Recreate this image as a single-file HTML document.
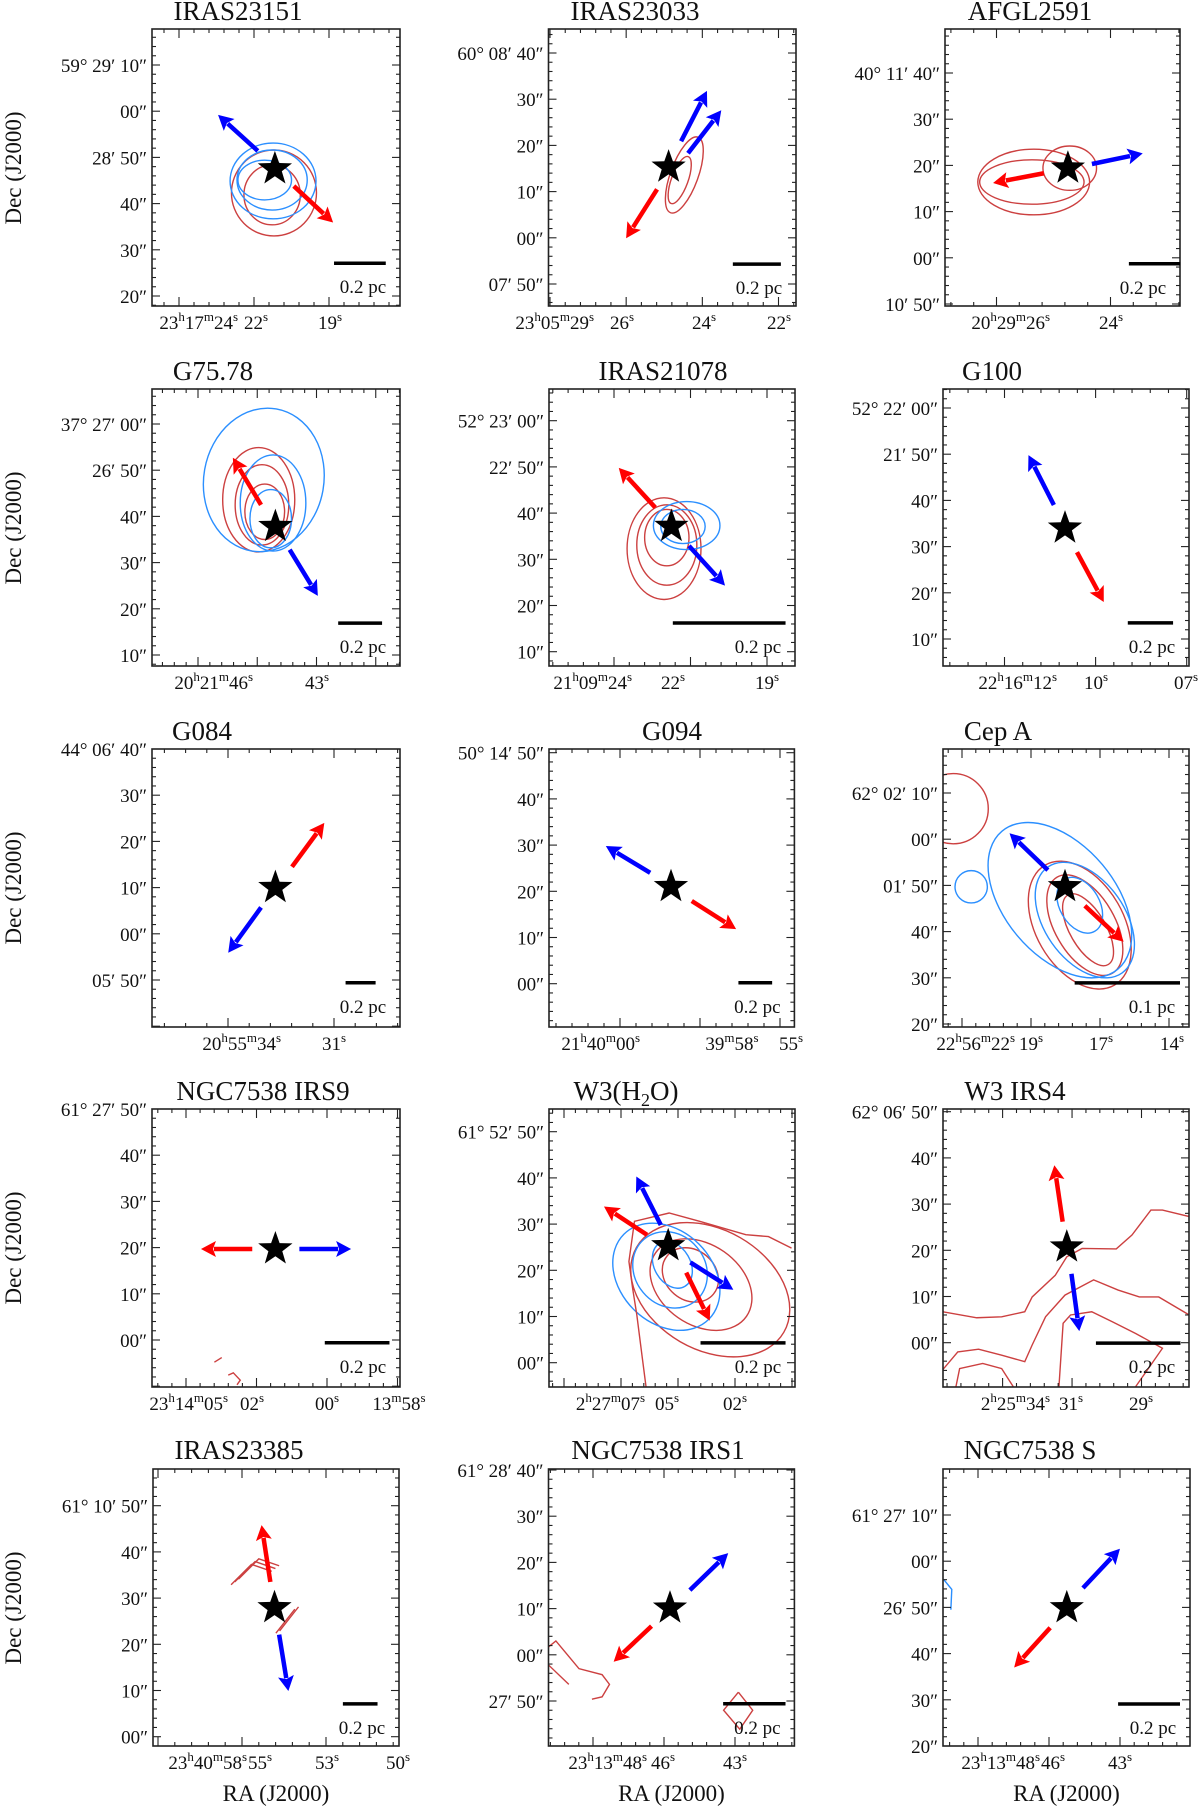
<!DOCTYPE html>
<html><head><meta charset="utf-8"><style>
html,body{margin:0;padding:0;background:#fff;}
svg{display:block;font-family:"Liberation Serif",serif;}
</style></head><body>
<svg id="fig" xmlns="http://www.w3.org/2000/svg" width="1200" height="1809" viewBox="0 0 1200 1809"></svg>
<script>
// ---------- data ----------
const titles=["IRAS23151","IRAS23033","AFGL2591","G75.78","IRAS21078","G100","G084","G094","Cep A","NGC7538 IRS9","W3(H2O)","W3 IRS4","IRAS23385","NGC7538 IRS1","NGC7538 S"];
const yTickLabels=[
["59° 29′ 10″","00″","28′ 50″","40″","30″","20″"],
["60° 08′ 40″","30″","20″","10″","00″","07′ 50″"],
["40° 11′ 40″","30″","20″","10″","00″","10′ 50″"],
["37° 27′ 00″","26′ 50″","40″","30″","20″","10″"],
["52° 23′ 00″","22′ 50″","40″","30″","20″","10″"],
["52° 22′ 00″","21′ 50″","40″","30″","20″","10″"],
["44° 06′ 40″","30″","20″","10″","00″","05′ 50″"],
["50° 14′ 50″","40″","30″","20″","10″","00″"],
["62° 02′ 10″","00″","01′ 50″","40″","30″","20″"],
["61° 27′ 50″","40″","30″","20″","10″","00″"],
["61° 52′ 50″","40″","30″","20″","10″","00″"],
["62° 06′ 50″","40″","30″","20″","10″","00″"],
["61° 10′ 50″","40″","30″","20″","10″","00″"],
["61° 28′ 40″","30″","20″","10″","00″","27′ 50″"],
["61° 27′ 10″","00″","26′ 50″","40″","30″","20″"]];
const xTickLabels=[
["23h17m24s","22s","19s"],["23h05m29s","26s","24s","22s"],["20h29m26s","24s"],
["20h21m46s","43s"],["21h09m24s","22s","19s"],["22h16m12s","10s","07s"],
["20h55m34s","31s"],["21h40m00s","39m58s","55s"],["22h56m22s","19s","17s","14s"],
["23h14m05s","02s","00s","13m58s"],["2h27m07s","05s","02s"],["2h25m34s","31s","29s"],
["23h40m58s","55s","53s","50s"],["23h13m48s","46s","43s"],["23h13m48s","46s","43s"]];
const starPos=[[26.6,-22.5],[26.0,-24.7],[26.6,-20.6],[26.7,-22.2],[26.5,-22.9],[26.4,-26.0],[26.7,-30.0],[26.4,-29.0],[26.4,-20.3],[26.7,-30.3],[25.8,-24.7],[26.8,-29.3],[26.3,-22.1],[26.3,-29.9],[26.8,-20.1]];
const redArrows=[[[4.1,-3.7,12.6,-11.6]],[[-2.5,-4.8,-9.2,-15.4]],[[-5.2,-1.1,-16.2,-3.2]],[[-3.1,4.7,-9.2,14.9]],[[-3.5,4.1,-11.4,12.7]],[[2.6,-5.2,8.4,-16.0]],[[3.6,4.5,10.6,14.0]],[[4.5,-3.1,14.1,-9.2]],[[4.3,-4.1,12.7,-11.9]],[[-5.0,0,-16.1,0]],[[-4.6,2.4,-13.9,8.5],[3.9,-5.8,9.0,-16.2]],[[-0.9,5.5,-2.7,17.7]],[[-0.9,5.6,-2.8,17.9]],[[-4.0,-3.9,-12.2,-11.6]],[[-3.6,-4.3,-11.4,-12.9]]];
const blueArrows=[[[-3.7,3.9,-12.3,11.7]],[[2.7,5.6,8.3,16.5],[4.2,3.0,11.4,12.3]],[[5.2,0.9,16.2,3.2]],[[3.1,-5.0,9.2,-15.0]],[[3.8,-4.2,11.6,-12.8]],[[-2.4,5.0,-7.9,15.8]],[[-3.1,-4.3,-10.2,-14.1]],[[-4.5,3.0,-14.1,8.8]],[[-3.7,3.6,-12.0,11.6]],[[5.2,0,16.4,0]],[[-1.6,4.5,-6.9,15.0],[4.8,-3.6,14.1,-9.5]],[[1.0,-5.8,2.7,-18.2]],[[1.0,-5.8,3.0,-18.0]],[[4.3,3.9,12.6,11.9]],[[3.5,4.3,11.5,12.8]]];
const scaleBars=[[39.4,50.6,-42.9,"0.2 pc"],[39.9,50.3,-45.7,"0.2 pc"],[39.8,50.9,-41.3,"0.2 pc"],[40.3,49.8,-43.1,"0.2 pc"],[26.8,51.2,-43.8,"0.2 pc"],[40.0,49.8,-46.5,"0.2 pc"],[41.9,48.4,-50.6,"0.2 pc"],[41.0,48.3,-49.8,"0.2 pc"],[28.5,51.3,-41.1,"0.1 pc"],[37.4,51.4,-50.6,"0.2 pc"],[32.8,51.2,-45.7,"0.2 pc"],[33.1,51.4,-50.1,"0.2 pc"],[41.1,48.6,-42.9,"0.2 pc"],[37.8,51.3,-50.6,"0.2 pc"],[37.9,51.3,-40.9,"0.2 pc"]];
const blueContours=[
[[-0.4,-2.6,9.3,8.2,0],[-0.6,-2.4,7.6,6.5,0],[-2.2,-2.4,5.8,4.3,0]],[],[],
[[-2.5,10.1,13,15.6,10],[-0.5,5.1,7.1,10.4,0],[-1,1.7,4.5,6.3,0]],
[[3.3,0.2,7.2,5.2,0],[2.5,0,4.8,3.7,0]],[],[],[],
[[-1.1,-2.9,12,19.5,-40],[4.3,-7.2,8.7,14,-35],[3.2,-4,4.3,6.5,-30],[-20.3,0,3.5,3.5,45]],
[],[[-0.4,-6.7,10,13,-45],[0.4,-5.2,7.6,8.7,-40],[0.9,-4.1,3.9,5.4,-30]],[],[],[],[]];
const redContours=[
[[-0.2,-5.2,9.2,9.3,0],[-0.6,-5.6,6.1,6.5,0]],
[[3.4,-1.7,3,8.7,20],[2.4,-2.8,1.8,5.4,20]],
[[-7.4,-3.0,12.1,7.1,0],[-7.8,-3.0,11.3,4.8,0],[0.4,0,5.8,4.8,0]],
[[-3.6,5.8,7.8,11.3,0],[-2.9,4.7,5.8,8.7,0],[-2.3,3.2,4.3,6,0]],
[[-1.6,-4.8,8,11,0],[-1,-4,6.5,8.7,0],[-1,-2.4,4.8,6.1,0]],[],[],[],
[[3.2,-8.3,9.5,15,-30],[4.3,-8.3,6.5,12,-30],[5,-9.3,3.9,8.7,-30],[-24.2,16.9,7.6,7.6,0]],
[],[[9.1,-9.5,18.4,13,30],[7.1,-8.4,12,8.7,35],[4.8,-6.3,6.5,5.4,40]],[],[],[],[]];
const redLines=[[],[],[],[],[],[],[],[],[],
[[[-13.2,-24.5],[-11.6,-23.5]],[[-10.2,-27.3],[-9.1,-26.8],[-7.6,-28.4],[-8.3,-29.4]]],
[[[26.7,-0.5],[21.7,2.0],[16.8,2.4],[6.8,5.3],[0.2,7.1],[-7.3,5.3],[-8.5,-3.4],[-7.7,-9.2],[-6.8,-14.9],[-5.6,-24.3],[-4.8,-30.5]]],
[[[-26.9,-14.0],[-19.5,-15.3],[-14.1,-15.1],[-9.1,-14.0],[-7.5,-10.8],[-2.5,-6.1],[0,-2.1],[3.3,-0.3],[10.7,-0.4],[14.1,2.6],[18.2,8.0],[20.7,8.0],[26.5,6.6]],
 [[-26.9,-26.6],[-23.6,-22.7],[-19.1,-22.1],[-14.1,-23.4],[-9.1,-24.8],[-7.5,-21.2],[-4.6,-15.1],[-0.4,-10.4],[5.8,-7.1],[11.1,-9.3],[15.7,-10.8],[19.9,-10.8],[26.5,-14.7]],
 [[-1.7,-30.2],[-0.8,-16.5],[0.8,-14.7],[5.4,-14.0],[9.9,-16.2],[14.9,-18.7],[20.7,-21.9],[18.2,-25.5],[14.9,-30.2]],
 [[-24.0,-30.2],[-23.2,-26.3],[-18.2,-25.2],[-14.1,-26.3],[-11.6,-30.2]]],
[[[-8.6,5.6],[-4.2,10.0],[0.2,8.5]],[[-9.4,5.0],[-5.0,9.4],[-0.6,7.9]],[[-7.8,6.2],[-3.4,10.6],[1.0,9.1]],[[1.1,-5.0],[5.2,0.2]],[[0.3,-5.5],[4.4,-0.3]]],
[[[-26.3,-8.4],[-24.7,-7.1],[-19.7,-13.1],[-14.7,-14.4],[-13.1,-16.5],[-14.7,-19.2],[-16.9,-19.7]],[[-26.3,-12.3],[-21.9,-16.5]],[[14.8,-18.2],[17.9,-22.1],[15.1,-26.2],[11.6,-22.1],[14.8,-18.2]]],
[]];
const blueLines=[[],[],[],[],[],[],[],[],[],[],[],[],[],[],[[[-26.7,6.2],[-24.9,4.0],[-25.1,-0.4]]]];

// ---------- layout ----------
const S=4.62;
const boxes=[[152,29,400,306],[548.5,29,796,306],[945,29,1180,306],
[152,389,400,666],[549,389,795,666],[943,389,1189,666],
[152,749,400,1027],[549,749,794.4,1027],[943,749,1189,1027],
[152,1109,400,1387],[549,1109,795,1387],[943,1109,1189,1387],
[153,1469,399,1746],[548.5,1469,794.4,1746],[943,1469,1190,1746]];
const yRef=[65,53,73,424,420.7,408,749,752.7,793,1109,1131.7,1111.7,1505.7,1470,1515];
const xMajorPx=[[179,255,329],[550,626.5,702.5,778.5],[996.5,1110.5],[198,241,316.5],[614,675,767],[1004.5,1095.6],[228,334],[620,700],[1031,1101,1169],[186,256,327],[621,667,735],[1002.6,1072.6,1141.5],[158,259,326],[593,664,735],[978,1049,1120]];
const xLabelPx=[[238,256,330],[594,622,704,779],[1050,1111],[253,317],[632,673,767],[1057,1096,1186],[281,334],[640,732,791],[1015,1031,1101,1172],[228,252,327,399],[645,667,735],[1050,1071,1141],[247,260,327,398],[647,663,735],[1040,1053,1120]];
const titleX=[238,635,1030,213,663,992,202,672,998,263,626,1015,239,658,1030];
const rowBase=[20,380,740,1100,1459];
const decY=[168,528,888,1248,1608];

const NS="http://www.w3.org/2000/svg";
const svg=document.getElementById('fig');
function mk(tag,attrs,parent){const e=document.createElementNS(NS,tag);for(const k in attrs)e.setAttribute(k,attrs[k]);(parent||svg).appendChild(e);return e;}
function px(p,x){return boxes[p][0]+x*S;}
function py(p,d){return yRef[p]-d*S;}
function sx(p,dx){return px(p,starPos[p][0]+dx);}
function sy(p,dy){return py(p,starPos[p][1]+dy);}

const defs=mk('defs',{});
function addRaLabel(g,txt,x,y,anchor){
  const t=mk('text',{x:x,y:y,'text-anchor':anchor,'font-size':19,fill:'#111'},g);
  const re=/(\d+)([hms])/g;let m;let up=false;
  while((m=re.exec(txt))){
    const a=document.createElementNS(NS,'tspan');a.textContent=m[1];if(up)a.setAttribute('dy','8');t.appendChild(a);
    const b=document.createElementNS(NS,'tspan');b.textContent=m[2];b.setAttribute('font-size','13');b.setAttribute('dy','-8');t.appendChild(b);
    up=true;
  }
  return t;
}
function starPath(cx,cy,R,r){let d='';for(let i=0;i<10;i++){const a=-Math.PI/2+i*Math.PI/5;const rr=i%2?r:R;d+=(i?'L':'M')+(cx+rr*Math.cos(a)).toFixed(1)+','+(cy+rr*Math.sin(a)).toFixed(1);}return d+'Z';}
function drawArrow(g,p,a,color,name){
  const x1=sx(p,a[0]),y1=sy(p,a[1]),x2=sx(p,a[2]),y2=sy(p,a[3]);
  const dx=x2-x1,dy=y2-y1,L=Math.hypot(dx,dy),ux=dx/L,uy=dy/L,H=15,W=8;
  const bx=x2-ux*H,by=y2-uy*H;
  const ag=mk('g',{},g);
  
  
  mk('line',{x1:x1,y1:y1,x2:bx+ux*2,y2:by+uy*2,stroke:color,'stroke-width':4.5},ag);
  mk('polygon',{points:`${x2},${y2} ${bx-uy*W},${by+ux*W} ${bx+ux*3},${by+uy*3} ${bx+uy*W},${by-ux*W}`,fill:color},ag);
}

for(let p=0;p<15;p++){
  const [L,T,R,B]=boxes[p];
  const g=mk('g',{});
  
  
  const row=Math.floor(p/3),col=p%3;
  const tt=mk('text',{x:titleX[p],y:rowBase[row],'text-anchor':'middle','font-size':27,fill:'#111'},g);
  
  
  if(titles[p]==='W3(H2O)'){tt.innerHTML='W3(H<tspan font-size="18" dy="6">2</tspan><tspan dy="-6">O)</tspan>';}
  else tt.textContent=titles[p];
  const cp=mk('clipPath',{id:'c'+p},defs);mk('rect',{x:L,y:T,width:R-L,height:B-T},cp);
  const cg=mk('g',{'clip-path':`url(#c${p})`},g);
  
  
  const drawEll=(arr,color,nm)=>arr.forEach(c=>{const cx=sx(p,c[0]),cy=sy(p,c[1]);const e=mk('ellipse',{cx:cx,cy:cy,rx:c[2]*S,ry:c[3]*S,transform:`rotate(${c[4]} ${cx} ${cy})`,fill:'none',stroke:color,'stroke-width':1.4},cg);});
  drawEll(redContours[p],'#cc4040','red-contour');
  drawEll(blueContours[p],'#2b8fff','blue-contour');
  const drawLines=(arr,color,nm)=>arr.forEach(l=>{const pl=mk('polyline',{points:l.map(q=>sx(p,q[0])+','+sy(p,q[1])).join(' '),fill:'none',stroke:color,'stroke-width':1.4},cg);});
  drawLines(redLines[p],'#cc4040','red-contour-line');
  drawLines(blueLines[p],'#2b8fff','blue-contour-line');
  const fr=mk('rect',{x:L,y:T,width:R-L,height:B-T,fill:'none',stroke:'#222','stroke-width':1.6},g);
  
  
  const yt=mk('g',{stroke:'#222','stroke-width':1.1},g);
  
  
  for(let k=-12;k<60;k++){const y=yRef[p]+k*9.24;if(y<T+0.5||y>B-0.5)continue;const len=k%5===0?8:4;
    mk('line',{x1:L,y1:y,x2:L+len,y2:y},yt);mk('line',{x1:R,y1:y,x2:R-len,y2:y},yt);}
  yTickLabels[p].forEach((lab,i)=>{const y=yRef[p]+i*46.2;
    const t=mk('text',{x:L-5,y:y+7,'text-anchor':'end','font-size':19,fill:'#111'},g);
    
    
    t.textContent=lab;});
  const xt=mk('g',{stroke:'#222','stroke-width':1.1},g);
  
  
  const xm=xMajorPx[p];const step=xm.length>1?(xm[xm.length-1]-xm[0])/(xm.length-1):76;const mstep=step/5;
  for(let k=-40;k<40;k++){const x=xm[0]+k*mstep;if(x<L+0.5||x>R-0.5)continue;const len=(k%5===0)?9:4;
    mk('line',{x1:x,y1:B,x2:x,y2:B-len},xt);mk('line',{x1:x,y1:T,x2:x,y2:T+len},xt);}
  xTickLabels[p].forEach((lab,i)=>{const t=addRaLabel(g,lab,xLabelPx[p][i],B+23,i===0&&lab.length>4?'end':'middle');
    
    });
  const sb=scaleBars[p];
  const bar=mk('line',{x1:px(p,sb[0]),y1:py(p,sb[2]),x2:px(p,sb[1]),y2:py(p,sb[2]),stroke:'#000','stroke-width':3.5},g);
  
  
  const sbl=mk('text',{x:R-37,y:py(p,sb[2])+30,'text-anchor':'middle','font-size':19,fill:'#111'},g);
  
  
  sbl.textContent=sb[3];
  redArrows[p].forEach(a=>drawArrow(g,p,a,'#ff0000','redshifted-outflow-arrow'));
  blueArrows[p].forEach(a=>drawArrow(g,p,a,'#0000ff','blueshifted-outflow-arrow'));
  const st=mk('path',{d:starPath(px(p,starPos[p][0]),py(p,starPos[p][1]),18,7.3),fill:'#000'},g);
  
  
  if(col===0){const t=mk('text',{x:0,y:0,transform:`translate(21 ${decY[row]}) rotate(-90)`,'text-anchor':'middle','font-size':23,fill:'#111'},g);
    
    
    t.textContent='Dec (J2000)';}
  if(row===4){const t=mk('text',{x:(L+R)/2,y:1801,'text-anchor':'middle','font-size':23,fill:'#111'},g);
    
    
    t.textContent='RA (J2000)';}
}
</script>
</body></html>
